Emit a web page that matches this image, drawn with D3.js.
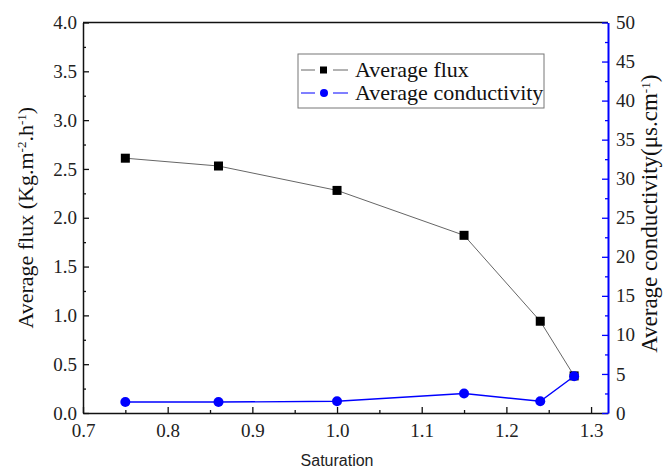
<!DOCTYPE html>
<html>
<head>
<meta charset="utf-8">
<script src="https://cdn.jsdelivr.net/npm/d3@7"></script>
<style>
  body { margin: 0; background: #fff; }
  svg { display: block; }
</style>
</head>
<body>
<svg width="665" height="473"></svg>
<script>
const saturation = [0.75, 0.86, 1.0, 1.15, 1.24, 1.28];
const flux = [2.61, 2.53, 2.28, 1.82, 0.94, 0.38];
const conductivity = [1.4, 1.4, 1.5, 2.5, 1.5, 4.7];
const xTicks = [0.7, 0.8, 0.9, 1.0, 1.1, 1.2, 1.3];
const yTicks = [0, 0.5, 1, 1.5, 2, 2.5, 3, 3.5, 4];
const y2Ticks = [0, 5, 10, 15, 20, 25, 30, 35, 40, 45, 50];

const serif = "'Liberation Serif', 'Times New Roman', serif";
const svg = d3.select("svg");
const margin = { left: 83, right: 57, top: 22.5, bottom: 60 };
const width = +svg.attr("width");
const height = +svg.attr("height");
const inner = {
  width: width - margin.left - margin.right,
  height: height - margin.top - margin.bottom,
};

const x = d3.scaleLinear().domain([0.7, 1.32]).range([0, inner.width]);
const y = d3.scaleLinear().domain([0, 4]).range([inner.height, 0]);
const y2 = d3.scaleLinear().domain([0, 50]).range([inner.height, 0]);

const g = svg.append("g").attr("transform", `translate(${margin.left},${margin.top})`);

// minor ticks
const minor = (axis, vals, color) => {
  const a = g.append("g").call(axis.tickValues(vals).tickSize(3).tickFormat(""));
  a.select(".domain").remove();
  a.selectAll("line").attr("stroke", color).attr("stroke-width", 1.3);
  return a;
};
minor(d3.axisBottom(x), d3.range(0.75, 1.32, 0.1), "#111")
  .attr("transform", `translate(0,${inner.height})`)
  .selectAll("line").attr("y2", -3);
minor(d3.axisLeft(y), d3.range(0.25, 4, 0.5), "#111")
  .selectAll("line").attr("x2", 3);
minor(d3.axisRight(y2), d3.range(2.5, 50, 5), "blue")
  .attr("transform", `translate(${inner.width},0)`)
  .selectAll("line").attr("x2", -3);

// top border
g.append("line").attr("x1", 0).attr("x2", inner.width).attr("y1", 0).attr("y2", 0)
  .attr("stroke", "#111").attr("stroke-width", 1.5);

const styleTicks = (a) => a.selectAll(".tick text")
  .attr("font-family", serif).attr("font-size", 19).attr("fill", "#222")
  .style("font-family", serif);

const xAxis = g.append("g")
  .attr("transform", `translate(0,${inner.height})`)
  .call(d3.axisBottom(x).tickValues(xTicks).tickSize(0).tickPadding(11).tickFormat(d3.format(".1f")));
xAxis.selectAll(".tick").append("line").attr("y2", -6).attr("stroke", "#111").attr("stroke-width", 1.3);
xAxis.select(".domain").attr("stroke", "#111").attr("stroke-width", 1.5);
styleTicks(xAxis);

const yAxis = g.append("g")
  .call(d3.axisLeft(y).tickValues(yTicks).tickSize(0).tickPadding(6).tickFormat(d3.format(".1f")));
yAxis.selectAll(".tick").append("line").attr("x2", 6).attr("stroke", "#111").attr("stroke-width", 1.3);
yAxis.select(".domain").attr("stroke", "#111").attr("stroke-width", 1.5);
styleTicks(yAxis);

const y2Axis = g.append("g")
  .attr("transform", `translate(${inner.width},0)`)
  .call(d3.axisRight(y2).tickValues(y2Ticks).tickSize(0).tickPadding(8));
y2Axis.selectAll(".tick").append("line").attr("x2", -6).attr("stroke", "blue").attr("stroke-width", 1.3);
y2Axis.select(".domain").attr("stroke", "blue").attr("stroke-width", 2);
styleTicks(y2Axis);

// series
const fluxData = saturation.map((s, i) => [s, flux[i]]);
const condData = saturation.map((s, i) => [s, conductivity[i]]);

g.append("path").datum(fluxData)
  .attr("fill", "none").attr("stroke", "#666").attr("stroke-width", 1)
  .attr("d", d3.line().x((d) => x(d[0])).y((d) => y(d[1])));
g.selectAll(".sq").data(fluxData).enter().append("rect")
  .attr("x", (d) => x(d[0]) - 4.5).attr("y", (d) => y(d[1]) - 4.5)
  .attr("width", 9).attr("height", 9).attr("fill", "#000");

g.append("path").datum(condData)
  .attr("fill", "none").attr("stroke", "blue").attr("stroke-width", 1.4)
  .attr("d", d3.line().x((d) => x(d[0])).y((d) => y2(d[1])));
g.selectAll(".dot").data(condData).enter().append("circle")
  .attr("cx", (d) => x(d[0])).attr("cy", (d) => y2(d[1]))
  .attr("r", 5).attr("fill", "blue");

// legend
const leg = svg.append("g").attr("transform", "translate(298,54)");
leg.append("rect").attr("width", 246).attr("height", 54)
  .attr("fill", "#fff").attr("stroke", "#777").attr("stroke-width", 1);
const items = [
  { label: "Average flux", color: "#666", mark: "sq" },
  { label: "Average conductivity", color: "blue", mark: "dot" },
];
items.forEach((it, i) => {
  const yy = 16 + i * 23;
  leg.append("line").attr("x1", 3).attr("x2", 17).attr("y1", yy).attr("y2", yy).attr("stroke", it.color);
  leg.append("line").attr("x1", 35).attr("x2", 50).attr("y1", yy).attr("y2", yy).attr("stroke", it.color);
  if (it.mark === "sq") {
    leg.append("rect").attr("x", 22).attr("y", yy - 3.5).attr("width", 7).attr("height", 7).attr("fill", "#000");
  } else {
    leg.append("circle").attr("cx", 26).attr("cy", yy).attr("r", 4).attr("fill", "blue");
  }
  leg.append("text").attr("font-family", serif).attr("fill", "#111").attr("x", 57).attr("y", yy + 7)
    .attr("font-size", 22).text(it.label);
});

// axis titles
svg.append("text").attr("x", margin.left + x(1.0)).attr("y", 466)
  .attr("text-anchor", "middle").attr("font-family", "'Liberation Sans', Arial, sans-serif")
  .attr("font-size", 16).attr("fill", "#222").text("Saturation");

const yl = svg.append("text").attr("font-family", serif).attr("fill", "#111").attr("font-size", 22)
  .attr("text-anchor", "middle")
  .attr("transform", `translate(33,${margin.top + inner.height / 2}) rotate(-90)`);
yl.append("tspan").text("Average flux (Kg.m");
yl.append("tspan").attr("baseline-shift", "super").attr("font-size", 13).text("-2");
yl.append("tspan").text(".h");
yl.append("tspan").attr("baseline-shift", "super").attr("font-size", 13).text("-1");
yl.append("tspan").text(")");

const y2l = svg.append("text").attr("font-family", serif).attr("fill", "#111").attr("font-size", 23)
  .attr("text-anchor", "middle")
  .attr("transform", `translate(657,${margin.top + inner.height / 2 - 4}) rotate(-90)`);
y2l.append("tspan").text("Average conductivity(\u03bcs.cm");
y2l.append("tspan").attr("baseline-shift", "super").attr("font-size", 13).text("-1");
y2l.append("tspan").text(")");
</script>
</body>
</html>
